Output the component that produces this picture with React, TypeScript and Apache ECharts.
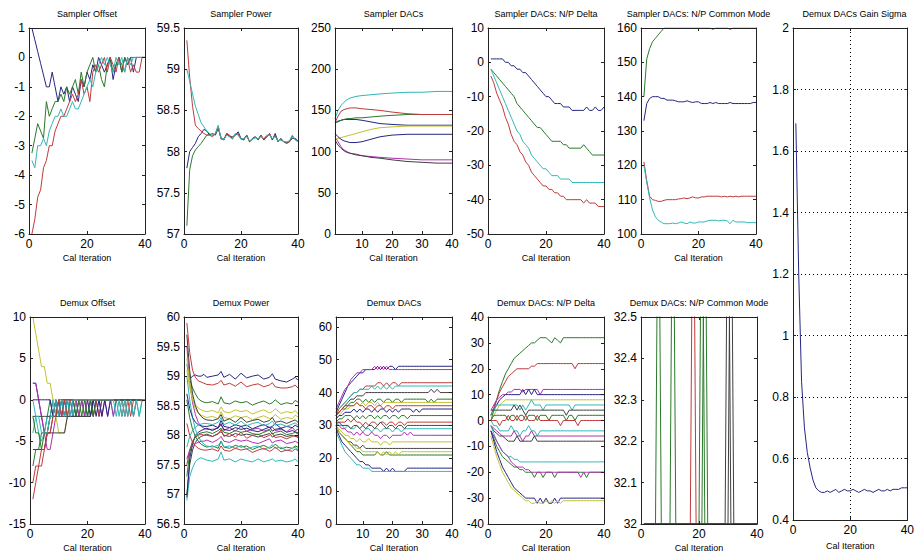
import { useEffect, useRef } from "react";
import * as echarts from "echarts";

// ---------- shared x data ----------
const ITER = [
  1, 2, 3, 4, 5, 6, 7, 8, 9, 10,
  11, 12, 13, 14, 15, 16, 17, 18, 19, 20,
  21, 22, 23, 24, 25, 26, 27, 28, 29, 30,
  31, 32, 33, 34, 35, 36, 37, 38, 39, 40,
];
const X_TICKS_STD = [0, 20, 40];
const X_TICKS_DAC = [10, 20, 30, 40];
const Y_TICKS_DEMUX_DAC = [0, 10, 20, 30, 40, 50, 60];

// ---------- Sampler Offset ----------
const SO_NAVY = [
  1, 0.6, 0.2, -0.2, -0.6, -1, -1, -0.5, -1, -1.5,
  -1, -1.25, -1, -1.5, -1, -1.25, -1.5, -0.75, -1, -0.5,
  -0.75, -0.25, -0.5, 0, -0.25, -0.5, -0.25, 0, -0.75, -0.25,
  0, -0.5, 0, -0.25, 0, -0.5, 0, 0, 0, 0,
];
const SO_RED = [
  -6, -5.5, -4.75, -4.5, -3.75, -3.5, -3, -3, -2.5, -2.25,
  -2, -2, -1.75, -1.5, -1.25, -1.5, -1.25, -0.75, -1.25, -1,
  -1.5, -0.5, -0.25, -0.5, -0.25, 0, -0.5, 0, -0.25, -0.5,
  0, -0.25, -0.5, 0, -0.5, -0.25, -0.5, -0.5, 0, 0,
];
const SO_GREEN = [
  -3.25, -2.75, -2.25, -2.5, -2.75, -1.5, -2, -1.75, -1.5, -1.5,
  -1.25, -1.5, -1, -1.25, -1, -0.75, -1.25, -0.5, -1, -0.5,
  -0.25, 0, -0.5, -0.25, -0.75, -1, -0.25, 0, -0.5, -0.25,
  0, -0.5, 0, -0.25, 0, 0, 0, 0, 0, 0,
];
const SO_CYAN = [
  -3.5, -3.75, -3, -3, -2.75, -3, -2.5, -2.25, -2, -2,
  -1.75, -2, -2, -1.75, -1.5, -1.75, -1.75, -1.5, -1.25, -1,
  -0.75, -1, -0.5, -0.25, 0, -0.25, 0, -0.25, -0.5, 0,
  -0.25, 0, -0.5, 0, -0.25, 0, 0, 0, 0, 0,
];

// ---------- Sampler Power ----------
const SP_RED = [
  59.35, 58.9, 58.55, 58.32, 58.28, 58.25, 58.22, 58.2, 58.2, 58.18,
  58.22, 58.3, 58.15, 58.15, 58.22, 58.2, 58.16, 58.2, 58.22, 58.15,
  58.15, 58.2, 58.12, 58.15, 58.18, 58.15, 58.2, 58.15, 58.18, 58.22,
  58.15, 58.2, 58.12, 58.15, 58.12, 58.1, 58.12, 58.18, 58.15, 58.13,
];
const SP_CYAN = [
  59.0, 58.85, 58.7, 58.55, 58.45, 58.35, 58.3, 58.25, 58.22, 58.2,
  58.22, 58.32, 58.16, 58.15, 58.2, 58.18, 58.15, 58.22, 58.2, 58.15,
  58.16, 58.18, 58.13, 58.15, 58.17, 58.15, 58.18, 58.16, 58.2, 58.2,
  58.16, 58.18, 58.13, 58.14, 58.12, 58.12, 58.13, 58.2, 58.14, 58.12,
];
const SP_NAVY = [
  57.8, 58.0, 58.05, 58.1, 58.18, 58.22, 58.27, 58.25, 58.2, 58.22,
  58.2, 58.28, 58.17, 58.14, 58.22, 58.18, 58.18, 58.2, 58.24, 58.16,
  58.14, 58.2, 58.12, 58.16, 58.18, 58.14, 58.2, 58.14, 58.18, 58.22,
  58.14, 58.22, 58.12, 58.16, 58.12, 58.11, 58.12, 58.16, 58.16, 58.13,
];
const SP_GREEN = [
  57.1, 57.78, 57.95, 58.02, 58.06, 58.1, 58.15, 58.2, 58.21, 58.2,
  58.21, 58.3, 58.16, 58.15, 58.21, 58.19, 58.16, 58.21, 58.21, 58.15,
  58.15, 58.19, 58.12, 58.15, 58.17, 58.15, 58.19, 58.15, 58.18, 58.21,
  58.15, 58.2, 58.12, 58.15, 58.12, 58.1, 58.12, 58.19, 58.15, 58.13,
];

// ---------- Sampler DACs ----------
const SD_X = [1, 2, 3, 4, 5, 6, 8, 10, 13, 16, 20, 25, 30, 35, 40];
const SD_CYAN = [140, 150, 156, 160, 163, 165, 167, 168, 169, 170, 171, 172, 172, 173, 173];
const SD_RED = [135, 143, 149, 151, 152, 153, 153, 152, 151, 150, 148, 146, 145, 145, 145];
const SD_GREEN = [135, 136, 138, 139, 140, 140, 141, 141, 142, 143, 144, 145, 145, 145, 145];
const SD_NAVY1 = [135, 137, 138, 139, 139, 139, 139, 138, 136, 134, 133, 132, 132, 132, 132];
const SD_YELLOW = [115, 116, 117, 118, 119, 120, 122, 124, 127, 129, 130, 131, 131, 131, 131];
const SD_NAVY2 = [122, 118, 115, 113, 112, 111, 111, 112, 115, 118, 120, 121, 121, 121, 121];
const SD_MAGENTA = [118, 112, 106, 102, 100, 98, 97, 95, 94, 93, 92, 91, 90, 90, 90];
const SD_BLACK = [114, 108, 104, 101, 99, 98, 96, 95, 93, 92, 90, 88, 87, 86, 86];

// ---------- Sampler DACs: N/P Delta ----------
const ND_NAVY = [
  1, 1, 1, 1, 1, 0, 0, -1, -1, -2,
  -2, -3, -3, -4, -5, -6, -7, -8, -9, -10,
  -10, -11, -12, -12, -12, -13, -13, -13, -14, -14,
  -14, -14, -14, -13, -14, -14, -13, -14, -14, -13,
];
const ND_GREEN = [
  -2, -3, -4, -5, -6, -7, -8, -9, -10, -12,
  -13, -14, -15, -16, -17, -18, -19, -19, -20, -21,
  -22, -23, -23, -23, -23, -24, -24, -25, -25, -25,
  -25, -25, -24, -25, -26, -27, -27, -27, -27, -27,
];
const ND_CYAN = [
  -2, -4, -6, -8, -10, -12, -14, -16, -18, -20,
  -21, -23, -24, -25, -27, -28, -29, -30, -31, -31,
  -32, -33, -33, -33, -34, -34, -34, -34, -35, -35,
  -35, -35, -35, -35, -35, -35, -35, -35, -35, -35,
];
const ND_RED = [
  -4, -6, -9, -11, -13, -16, -18, -21, -23, -24,
  -26, -27, -29, -30, -32, -33, -34, -35, -36, -36,
  -37, -37, -38, -38, -39, -39, -40, -40, -40, -40,
  -40, -40, -41, -40, -41, -41, -41, -42, -42, -42,
];

// ---------- Sampler DACs: N/P Common Mode ----------
const CM_GREEN = [
  140, 151, 154, 156, 157, 158, 159, 160, 160, 160,
  160, 160, 160, 160, 160, 160, 160, 160, 160, 160,
  160, 160, 160, 160, 159.6, 160, 160, 160, 160, 160,
  159.6, 160, 160, 160, 160, 160, 160, 160, 160, 160,
];
const CM_NAVY = [
  133, 138, 139.5, 140, 140, 140, 139.5, 139.5, 139, 139,
  139, 138.8, 138.5, 138.5, 138.5, 138.8, 138.5, 138.3, 138.5, 138.5,
  138, 138, 138, 138.3, 138, 138.3, 138, 138, 138, 138,
  138.3, 138, 138, 138, 138, 138, 138, 138, 138.3, 138.3,
];
const CM_RED = [
  121, 115.5, 111, 110, 109.8, 109.5, 109.5, 109.8, 110, 110,
  110, 110, 110.2, 110.3, 110.5, 110.3, 110.5, 110.8, 110.5, 110.5,
  110.8, 110.8, 111, 111, 111, 111, 111, 110.8, 111, 110.8,
  111, 110.8, 111, 110.8, 111, 111, 111, 111, 111, 111,
];
const CM_CYAN = [
  120, 115, 110.5, 107, 105, 104, 103.5, 103, 103, 103,
  103.2, 103, 103.2, 103.5, 103.2, 103, 103.5, 103.2, 103.2, 103.5,
  103.5, 103.5, 103.8, 104, 104, 104, 103.8, 104, 104, 103.8,
  103, 104, 103.5, 103.5, 103.5, 103.5, 103.3, 103.3, 103.3, 103.3,
];

// ---------- Demux DACs Gain Sigma ----------
const GAIN_SIGMA = [
  1.69, 1.2, 0.85, 0.7, 0.62, 0.57, 0.53, 0.505, 0.495, 0.49,
  0.49, 0.495, 0.49, 0.495, 0.5, 0.49, 0.495, 0.5, 0.495, 0.495,
  0.5, 0.495, 0.49, 0.495, 0.5, 0.495, 0.495, 0.49, 0.495, 0.5,
  0.495, 0.495, 0.5, 0.495, 0.5, 0.5, 0.5, 0.505, 0.505, 0.505,
];

// ---------- Demux Offset ----------
const DO_NAVY = [
  2, 2, 0, -2, -4, -4, -2, 0, -2, 0,
  -2, 0, -2, 0, -2, 0, 0, 0, 0, -2,
  0, -2, 0, -2, 0, 0, 0, 0, 0, 0,
  0, 0, 0, 0, 0, 0, 0, 0, 0, 0,
];
const DO_GREEN = [
  -8, -6, -6, -4, -4, -2, 0, -2, 0, -2,
  0, -2, 0, 0, 0, 0, -2, 0, -2, 0,
  0, 0, 0, 0, 0, 0, 0, 0, 0, 0,
  0, 0, 0, 0, 0, 0, 0, 0, 0, 0,
];
const DO_RED = [
  -12, -10, -8, -8, -6, -4, -4, -2, 0, -2,
  0, 0, 0, 0, 0, 0, 0, 0, 0, 0,
  0, -2, 0, -2, 0, 0, 0, 0, 0, 0,
  0, 0, -2, 0, -2, 0, 0, 0, 0, 0,
];
const DO_CYAN = [
  -4, -2, -4, -5, -4, -2, -2, 0, -2, 0,
  -2, 0, -2, 0, -2, 0, 0, 0, 0, 0,
  0, 0, 0, 0, 0, 0, 0, 0, -2, 0,
  -2, 0, -2, 0, 0, -2, 0, -2, 0, 0,
];
const DO_MAGENTA = [
  2, 2, 0, -2, -4, -6, -6, -4, -2, 0,
  -2, 0, 0, 0, 0, 0, -2, 0, -2, 0,
  0, 0, 0, 0, -2, 0, -2, 0, -2, 0,
  0, 0, 0, 0, 0, 0, 0, 0, 0, 0,
];
const DO_YELLOW = [
  10, 8, 6, 4, 4, 2, 2, 0, -2, -4,
  -4, -4, -2, 0, 0, 0, 0, 0, 0, 0,
  0, 0, 0, 0, 0, 0, 0, 0, 0, 0,
  0, 0, 0, 0, 0, 0, 0, 0, 0, 0,
];
const DO_BLACK = [
  -6, -6, -6, -6, -6, -4, -4, -4, -4, -4,
  -4, -4, -2, -2, -2, -2, -2, -2, -2, -2,
  -2, 0, 0, 0, 0, 0, 0, 0, 0, 0,
  0, 0, 0, 0, 0, 0, 0, 0, 0, 0,
];
const DO_NAVY2 = [
  0, 0, 0, 0, 0, 0, 0, -2, 0, -2,
  0, -2, 0, -2, 0, -2, 0, 0, 0, 0,
  -2, 0, -2, 0, -2, 0, -2, 0, 0, 0,
  0, 0, 0, 0, 0, 0, 0, 0, 0, 0,
];
const DO_GREEN2 = [
  -2, -4, -4, -6, -4, -4, -2, -2, -2, 0,
  0, 0, 0, 0, 0, -2, 0, -2, 0, -2,
  0, -2, 0, 0, 0, 0, 0, 0, 0, 0,
  0, 0, 0, 0, 0, 0, 0, 0, 0, 0,
];
const DO_RED2 = [
  -10, -8, -8, -6, -6, -4, -4, -2, -2, 0,
  -2, 0, -2, 0, 0, 0, 0, 0, 0, 0,
  0, 0, 0, 0, 0, 0, 0, 0, 0, 0,
  0, -2, 0, -2, 0, -2, 0, 0, 0, 0,
];
const DO_CYAN2 = [
  0, -2, -2, -4, -4, -4, -2, -2, 0, -2,
  0, -2, 0, -2, 0, 0, 0, 0, 0, 0,
  0, 0, 0, 0, 0, 0, 0, 0, 0, -2,
  0, -2, 0, -2, 0, -2, 0, -2, 0, 0,
];
const DO_BLACK2 = [
  -2, -2, -2, -2, -2, -2, -2, -2, -2, -2,
  -2, -2, -2, -2, -2, -2, -2, -2, -2, -2,
  -2, 0, 0, 0, 0, 0, 0, 0, 0, 0,
  0, 0, 0, 0, 0, 0, 0, 0, 0, 0,
];

// ---------- Demux Power ----------
const DP_X = [1, 2, 3, 4, 5, 6, 7, 8, 10, 12, 13, 14, 16, 18, 20, 22, 24, 26, 28, 30, 31, 32, 34, 36, 38, 39, 40];
const DP_1 = [58.9, 58.95, 59.0, 59.02, 59.0, 59.0, 59.03, 58.98, 59.0, 59.02, 59.08, 58.98, 59.03, 58.95, 59.05, 58.97, 59.0, 59.02, 58.95, 58.98, 59.04, 58.95, 58.92, 58.9, 58.95, 58.98, 58.93];
const DP_2 = [59.2, 58.95, 58.8, 58.7, 58.62, 58.58, 58.56, 58.55, 58.57, 58.53, 58.65, 58.55, 58.53, 58.58, 58.55, 58.57, 58.51, 58.55, 58.58, 58.53, 58.55, 58.6, 58.52, 58.55, 58.53, 58.59, 58.56];
const DP_3 = [59.9, 59.4, 59.1, 58.98, 58.92, 58.9, 58.88, 58.86, 58.85, 58.88, 58.93, 58.85, 58.88, 58.83, 58.9, 58.82, 58.85, 58.87, 58.82, 58.85, 58.89, 58.82, 58.8, 58.8, 58.82, 58.85, 58.8];
const DP_4 = [56.9, 57.3, 57.45, 57.55, 57.6, 57.62, 57.6, 57.58, 57.56, 57.6, 57.72, 57.58, 57.6, 57.55, 57.6, 57.57, 57.55, 57.6, 57.55, 57.58, 57.6, 57.56, 57.58, 57.55, 57.57, 57.6, 57.55];
const DP_5 = [59.5, 58.9, 58.55, 58.35, 58.22, 58.15, 58.12, 58.1, 58.1, 58.12, 58.2, 58.08, 58.13, 58.07, 58.15, 58.07, 58.1, 58.12, 58.07, 58.1, 58.14, 58.08, 58.1, 58.06, 58.13, 58.08, 58.1];
const DP_6 = [59.3, 58.9, 58.6, 58.45, 58.38, 58.34, 58.32, 58.3, 58.32, 58.28, 58.4, 58.3, 58.28, 58.33, 58.3, 58.32, 58.26, 58.3, 58.33, 58.28, 58.3, 58.35, 58.27, 58.3, 58.28, 58.34, 58.31];
const DP_7 = [57.0, 57.5, 57.75, 57.88, 57.95, 57.98, 58.0, 58.02, 57.98, 58.03, 58.06, 58.0, 57.98, 58.03, 58.0, 58.02, 58.0, 57.97, 58.0, 58.03, 57.97, 58.0, 58.02, 57.98, 58.0, 57.98, 57.97];
const DP_8 = [56.95, 57.6, 57.85, 58.0, 58.05, 58.08, 58.1, 58.12, 58.08, 58.13, 58.18, 58.1, 58.08, 58.13, 58.1, 58.12, 58.08, 58.06, 58.1, 58.14, 58.07, 58.1, 58.12, 58.05, 58.08, 58.06, 58.04];
const DP_9 = [58.6, 58.3, 58.1, 57.98, 57.9, 57.85, 57.82, 57.8, 57.82, 57.78, 57.9, 57.8, 57.78, 57.83, 57.8, 57.82, 57.76, 57.8, 57.83, 57.78, 57.8, 57.85, 57.77, 57.8, 57.78, 57.82, 57.8];
const DP_10 = [57.5, 57.75, 57.9, 57.97, 58.0, 58.02, 58.0, 58.0, 57.98, 58.02, 58.1, 57.98, 58.03, 57.97, 58.05, 57.95, 58.0, 58.02, 57.96, 58.0, 58.04, 57.96, 57.98, 57.94, 57.98, 58.0, 57.96];
const DP_11 = [59.0, 58.6, 58.3, 58.1, 57.98, 57.9, 57.85, 57.82, 57.8, 57.83, 57.9, 57.8, 57.82, 57.78, 57.83, 57.77, 57.8, 57.82, 57.76, 57.8, 57.84, 57.78, 57.8, 57.74, 57.78, 57.8, 57.76];
const DP_12 = [57.6, 57.75, 57.82, 57.86, 57.88, 57.9, 57.9, 57.92, 57.88, 57.93, 57.98, 57.9, 57.88, 57.93, 57.9, 57.92, 57.88, 57.86, 57.9, 57.94, 57.87, 57.9, 57.92, 57.86, 57.88, 57.9, 57.87];
const DP_13 = [59.1, 58.8, 58.62, 58.52, 58.46, 58.43, 58.41, 58.4, 58.42, 58.38, 58.48, 58.4, 58.38, 58.43, 58.4, 58.42, 58.36, 58.4, 58.43, 58.38, 58.4, 58.45, 58.37, 58.4, 58.38, 58.42, 58.36];
const DP_14 = [59.7, 59.1, 58.7, 58.5, 58.38, 58.32, 58.28, 58.26, 58.25, 58.28, 58.35, 58.24, 58.28, 58.22, 58.3, 58.22, 58.25, 58.27, 58.22, 58.25, 58.3, 58.22, 58.24, 58.2, 58.24, 58.26, 58.22];
const DP_15 = [58.7, 58.45, 58.3, 58.22, 58.18, 58.16, 58.15, 58.15, 58.17, 58.13, 58.25, 58.15, 58.13, 58.18, 58.15, 58.17, 58.11, 58.15, 58.18, 58.13, 58.15, 58.2, 58.12, 58.15, 58.13, 58.17, 58.14];
const DP_16 = [57.3, 57.7, 57.88, 57.97, 58.02, 58.04, 58.05, 58.06, 58.03, 58.08, 58.12, 58.05, 58.03, 58.08, 58.05, 58.07, 58.03, 58.01, 58.05, 58.09, 58.02, 58.05, 58.07, 58.01, 58.03, 58.05, 58.02];
const DP_17 = [58.2, 58.0, 57.88, 57.82, 57.78, 57.76, 57.75, 57.75, 57.77, 57.73, 57.82, 57.75, 57.73, 57.78, 57.75, 57.77, 57.71, 57.75, 57.78, 57.73, 57.75, 57.8, 57.72, 57.75, 57.73, 57.77, 57.74];
const DP_18 = [57.8, 57.98, 58.08, 58.14, 58.17, 58.19, 58.2, 58.2, 58.18, 58.22, 58.3, 58.18, 58.22, 58.17, 58.24, 58.16, 58.2, 58.22, 58.16, 58.2, 58.24, 58.17, 58.19, 58.15, 58.19, 58.21, 58.17];

// ---------- Demux DACs ----------
const DD_1 = [34, 36, 38, 40, 42, 43, 44, 45, 46, 46, 47, 47, 47, 47, 48, 47, 48, 47, 48, 48, 47, 48, 48, 48, 48, 48, 48, 48, 48, 48, 48, 48, 48, 48, 48, 48, 48, 48, 48, 48];
const DD_2 = [35, 37, 39, 41, 42, 44, 45, 46, 46, 47, 47, 47, 47, 48, 47, 48, 47, 48, 47, 47, 47, 47, 47, 47, 47, 47, 47, 47, 47, 47, 47, 47, 47, 47, 47, 47, 47, 47, 47, 47];
const DD_3 = [33, 35, 36, 37, 38, 39, 40, 40, 41, 41, 42, 42, 42, 42, 43, 43, 42, 43, 42, 43, 43, 42, 43, 43, 43, 43, 43, 43, 43, 43, 43, 43, 43, 43, 43, 43, 43, 43, 43, 43];
const DD_4 = [34, 35, 36, 37, 38, 39, 40, 40, 41, 41, 41, 41, 42, 41, 42, 41, 42, 41, 42, 41, 42, 42, 42, 42, 42, 42, 42, 42, 42, 42, 42, 42, 42, 42, 42, 42, 42, 42, 42, 42];
const DD_5 = [33, 34, 35, 36, 37, 38, 38, 39, 39, 39, 40, 40, 40, 40, 40, 40, 40, 40, 40, 40, 40, 40, 40, 40, 40, 40, 40, 40, 40, 40, 40, 40, 41, 40, 41, 40, 40, 40, 40, 40];
const DD_6 = [33, 34, 35, 36, 36, 37, 37, 38, 38, 37, 38, 37, 38, 37, 38, 38, 37, 38, 38, 37, 38, 38, 37, 38, 38, 38, 38, 38, 38, 38, 38, 37, 38, 37, 38, 38, 38, 38, 38, 38];
const DD_7 = [32, 33, 34, 35, 35, 36, 36, 37, 36, 37, 36, 37, 37, 36, 37, 36, 37, 37, 37, 37, 37, 37, 37, 37, 37, 37, 37, 37, 37, 37, 37, 37, 37, 37, 37, 37, 37, 37, 37, 37];
const DD_8 = [32, 33, 33, 34, 34, 34, 35, 34, 35, 34, 35, 35, 34, 35, 34, 35, 35, 34, 35, 34, 35, 34, 35, 35, 35, 35, 34, 35, 34, 35, 35, 35, 35, 35, 35, 35, 35, 35, 35, 35];
const DD_9 = [31, 32, 32, 33, 33, 33, 32, 33, 32, 33, 32, 33, 33, 32, 33, 32, 33, 33, 32, 33, 33, 32, 33, 33, 32, 33, 33, 33, 33, 33, 33, 33, 33, 33, 33, 33, 33, 33, 33, 33];
const DD_10 = [30, 31, 31, 31, 32, 31, 32, 31, 31, 30, 31, 30, 31, 31, 30, 31, 31, 30, 31, 31, 30, 31, 31, 30, 31, 31, 31, 31, 31, 31, 31, 31, 31, 31, 31, 31, 31, 31, 31, 31];
const DD_11 = [31, 30, 30, 29, 30, 29, 29, 30, 29, 28, 29, 29, 28, 29, 29, 28, 29, 29, 29, 28, 29, 29, 28, 29, 29, 29, 29, 29, 29, 29, 29, 29, 29, 29, 29, 29, 29, 29, 29, 29];
const DD_12 = [30, 30, 29, 29, 28, 28, 27, 28, 27, 28, 27, 27, 28, 27, 27, 26, 27, 27, 26, 27, 27, 27, 27, 28, 27, 28, 27, 27, 27, 27, 27, 27, 27, 27, 27, 27, 27, 27, 27, 27];
const DD_13 = [30, 29, 28, 27, 27, 26, 26, 25, 26, 25, 25, 26, 25, 25, 25, 24, 25, 25, 24, 25, 25, 25, 25, 25, 25, 25, 25, 25, 25, 25, 25, 25, 25, 25, 25, 25, 25, 25, 25, 25];
const DD_14 = [30, 28, 27, 26, 25, 25, 24, 24, 23, 24, 23, 23, 23, 23, 23, 23, 23, 23, 23, 23, 23, 23, 23, 23, 23, 23, 23, 23, 23, 23, 23, 23, 23, 23, 23, 23, 23, 23, 23, 23];
const DD_15 = [29, 28, 27, 26, 25, 24, 23, 22, 22, 21, 21, 21, 21, 21, 22, 21, 21, 22, 21, 21, 21, 21, 21, 21, 21, 21, 21, 21, 21, 21, 21, 21, 21, 21, 21, 21, 21, 21, 21, 21];
const DD_16 = [30, 28, 27, 26, 25, 24, 24, 23, 23, 22, 22, 22, 22, 22, 22, 21, 22, 21, 22, 21, 22, 21, 22, 22, 22, 22, 22, 22, 22, 22, 22, 22, 22, 22, 22, 22, 22, 22, 22, 22];
const DD_17 = [29, 27, 25, 24, 23, 22, 21, 20, 19, 19, 18, 18, 17, 17, 17, 17, 16, 17, 16, 17, 16, 16, 16, 16, 17, 17, 17, 17, 17, 17, 17, 17, 17, 17, 17, 17, 17, 17, 17, 17];
const DD_18 = [28, 26, 24, 22, 21, 20, 19, 18, 18, 17, 17, 17, 16, 16, 16, 16, 16, 16, 16, 16, 16, 16, 16, 16, 16, 16, 16, 16, 16, 16, 16, 16, 16, 16, 16, 16, 16, 16, 16, 16];
const DD_19 = [33, 34, 35, 35, 36, 36, 36, 37, 36, 36, 35, 36, 36, 35, 36, 36, 35, 36, 36, 35, 36, 36, 36, 36, 36, 36, 36, 36, 36, 36, 36, 36, 36, 36, 36, 36, 36, 36, 36, 36];
const DD_20 = [31, 31, 30, 30, 30, 29, 30, 30, 29, 30, 29, 30, 30, 29, 30, 31, 30, 29, 30, 30, 29, 30, 30, 29, 30, 30, 30, 30, 30, 30, 30, 30, 30, 30, 30, 30, 30, 30, 30, 30];

// ---------- Demux DACs: N/P Delta ----------
const DN_1 = [0, 4, 8, 12, 15, 18, 20, 22, 24, 25, 26, 27, 28, 29, 30, 30, 31, 32, 32, 32, 31, 30, 32, 31, 30, 32, 32, 32, 32, 32, 32, 32, 32, 32, 32, 32, 32, 32, 32, 32];
const DN_2 = [2, 5, 8, 11, 13, 15, 17, 18, 19, 20, 20, 20, 20, 20, 21, 21, 22, 22, 22, 22, 22, 22, 22, 22, 22, 22, 22, 22, 22, 20, 22, 22, 22, 22, 22, 22, 22, 22, 22, 22];
const DN_3 = [4, 6, 8, 9, 10, 10, 11, 11, 12, 12, 12, 11, 12, 12, 12, 12, 12, 10, 12, 12, 12, 12, 12, 12, 12, 12, 12, 12, 12, 12, 12, 12, 12, 12, 12, 12, 12, 12, 12, 12];
const DN_4 = [2, 4, 6, 8, 9, 10, 10, 10, 10, 10, 10, 12, 10, 12, 10, 12, 10, 10, 10, 10, 10, 10, 10, 10, 10, 10, 10, 10, 10, 10, 10, 10, 10, 10, 10, 10, 10, 10, 10, 10];
const DN_5 = [0, 2, 4, 6, 7, 8, 8, 8, 8, 8, 8, 8, 8, 8, 8, 8, 8, 8, 8, 8, 8, 8, 8, 8, 8, 8, 8, 8, 8, 8, 8, 8, 8, 8, 8, 8, 8, 8, 8, 8];
const DN_6 = [2, 4, 6, 6, 6, 6, 6, 6, 6, 6, 4, 6, 4, 6, 8, 6, 6, 6, 4, 6, 6, 6, 6, 6, 6, 6, 6, 6, 4, 6, 6, 6, 6, 6, 6, 6, 6, 6, 6, 6];
const DN_7 = [4, 4, 4, 4, 4, 4, 4, 4, 6, 4, 6, 4, 2, 4, 4, 4, 4, 4, 4, 4, 4, 4, 4, 4, 4, 4, 2, 4, 4, 4, 4, 4, 4, 4, 4, 4, 4, 4, 4, 4];
const DN_8 = [0, 2, 2, 2, 2, 2, 0, 2, 2, 0, 2, 2, 0, 2, 2, 2, 0, 2, 2, 2, 0, 2, 2, 2, 2, 2, 0, 2, 2, 0, 2, 2, 2, 2, 2, 2, 2, 2, 2, 2];
const DN_9 = [0, 0, 0, -2, 0, 0, 2, 0, 0, 2, 0, 0, 2, 0, 0, 0, 2, 0, 0, 0, 0, 0, 0, 0, -2, 0, 0, 0, 0, 0, -2, 0, 0, 0, 0, 0, 0, 0, 0, 0];
const DN_10 = [0, -2, -2, -4, -4, -4, -4, -2, -4, -4, -6, -4, -4, -2, -4, -4, -6, -4, -4, -4, -4, -4, -4, -4, -4, -4, -4, -4, -4, -4, -4, -4, -4, -4, -4, -4, -4, -4, -4, -4];
const DN_11 = [-2, -3, -4, -5, -6, -6, -6, -6, -4, -6, -6, -8, -6, -6, -4, -6, -6, -6, -6, -6, -6, -6, -6, -6, -6, -6, -6, -6, -6, -6, -6, -6, -6, -6, -6, -6, -6, -6, -6, -6];
const DN_12 = [-2, -4, -5, -6, -6, -7, -8, -8, -8, -6, -8, -8, -8, -8, -8, -6, -8, -8, -8, -8, -8, -8, -8, -8, -8, -8, -8, -8, -8, -8, -8, -8, -8, -8, -8, -8, -8, -8, -8, -8];
const DN_13 = [-2, -5, -8, -10, -12, -13, -14, -14, -15, -15, -16, -16, -16, -16, -16, -16, -16, -16, -16, -16, -16, -16, -16, -16, -16, -16, -16, -16, -16, -16, -16, -16, -16, -16, -16, -16, -16, -16, -16, -16];
const DN_14 = [-4, -7, -10, -12, -14, -15, -16, -17, -18, -18, -19, -19, -20, -20, -20, -22, -20, -20, -22, -20, -20, -20, -22, -20, -20, -20, -20, -20, -20, -20, -20, -20, -20, -22, -20, -20, -20, -20, -20, -20];
const DN_15 = [-4, -6, -8, -10, -12, -13, -14, -16, -17, -18, -18, -18, -19, -19, -20, -20, -20, -20, -20, -20, -20, -20, -20, -20, -20, -20, -20, -20, -20, -20, -20, -22, -20, -20, -20, -20, -20, -20, -20, -20];
const DN_16 = [-4, -8, -12, -15, -18, -20, -22, -24, -26, -27, -28, -29, -30, -30, -30, -30, -32, -30, -32, -30, -32, -32, -30, -32, -30, -30, -30, -30, -30, -30, -30, -30, -30, -30, -30, -30, -30, -30, -30, -30];
const DN_17 = [-6, -10, -14, -17, -20, -22, -24, -26, -27, -28, -29, -30, -31, -31, -32, -32, -31, -32, -32, -31, -32, -31, -32, -31, -32, -31, -31, -31, -31, -31, -31, -31, -31, -31, -31, -31, -31, -31, -31, -31];

// ---------- Demux DACs: N/P Common Mode ----------
const DC_G1_X = [1, 5, 6, 7, 40];
const DC_G1_Y = [32, 32, 33, 32, 32];
const DC_G2_X = [1, 10, 11, 12, 40];
const DC_G2_Y = [32, 32, 33, 32, 32];
const DC_R1_X = [1, 17, 18, 19, 40];
const DC_R1_Y = [32, 32, 33, 32, 32];
const DC_G3_X = [1, 20, 21, 22, 40];
const DC_G3_Y = [32, 32, 33, 32, 32];
const DC_G4_X = [1, 21, 22, 23, 40];
const DC_G4_Y = [32, 32, 33, 32, 32];
const DC_K1_X = [1, 29, 30, 31, 40];
const DC_K1_Y = [32, 32, 33, 32, 32];
const DC_K2_X = [1, 30, 31, 32, 40];
const DC_K2_Y = [32, 32, 33, 32, 32];

// ---------- styles ----------
const COL: Record<string, string> = {
  b: "#262684",
  g: "#2a7a2a",
  r: "#c03a3a",
  c: "#2fb8b8",
  m: "#b02fb0",
  y: "#c2c230",
  k: "#404040",
};
const FONT = '"Liberation Sans", Arial, Helvetica, sans-serif';
const AXIS_COLOR = "#222";

type Line = { c: string; y: number[]; x?: number[] };
type Panel = {
  title: string;
  box: [number, number, number, number];
  x: [number, number];
  xInterval?: number;
  xCustom?: number[];
  y: [number, number];
  yInterval?: number;
  yCustom?: number[];
  grid?: boolean;
  lines: Line[];
};

const TOP = 28;
const TOP_H = 206;
const BOT = 317;
const BOT_H = 207;

const PANELS: Panel[] = [
  {
    title: "Sampler Offset",
    box: [29, TOP, 116, TOP_H],
    x: [0, 40], xCustom: X_TICKS_STD,
    y: [-6, 1], yInterval: 1,
    lines: [
      { c: "b", y: SO_NAVY }, { c: "g", y: SO_GREEN }, { c: "r", y: SO_RED }, { c: "c", y: SO_CYAN },
    ],
  },
  {
    title: "Sampler Power",
    box: [184, TOP, 114, TOP_H],
    x: [0, 40], xCustom: X_TICKS_STD,
    y: [57, 59.5], yInterval: 0.5,
    lines: [
      { c: "b", y: SP_NAVY }, { c: "g", y: SP_GREEN }, { c: "r", y: SP_RED }, { c: "c", y: SP_CYAN },
    ],
  },
  {
    title: "Sampler DACs",
    box: [335, TOP, 117, TOP_H],
    x: [1, 40], xCustom: X_TICKS_DAC,
    y: [0, 250], yInterval: 50,
    lines: [
      { c: "b", x: SD_X, y: SD_NAVY1 }, { c: "g", x: SD_X, y: SD_GREEN }, { c: "r", x: SD_X, y: SD_RED },
      { c: "c", x: SD_X, y: SD_CYAN }, { c: "m", x: SD_X, y: SD_MAGENTA }, { c: "y", x: SD_X, y: SD_YELLOW },
      { c: "k", x: SD_X, y: SD_BLACK }, { c: "b", x: SD_X, y: SD_NAVY2 },
    ],
  },
  {
    title: "Sampler DACs: N/P Delta",
    box: [488, TOP, 116, TOP_H],
    x: [0, 40], xCustom: X_TICKS_STD,
    y: [-50, 10], yInterval: 10,
    lines: [
      { c: "b", y: ND_NAVY }, { c: "g", y: ND_GREEN }, { c: "r", y: ND_RED }, { c: "c", y: ND_CYAN },
    ],
  },
  {
    title: "Sampler DACs: N/P Common Mode",
    box: [641, TOP, 115, TOP_H],
    x: [0, 40], xCustom: X_TICKS_STD,
    y: [100, 160], yInterval: 10,
    lines: [
      { c: "b", y: CM_NAVY }, { c: "g", y: CM_GREEN }, { c: "r", y: CM_RED }, { c: "c", y: CM_CYAN },
    ],
  },
  {
    title: "Demux DACs Gain Sigma",
    box: [793, TOP, 123, 496],
    x: [0, 40], xInterval: 20,
    y: [0.4, 2], yInterval: 0.2,
    grid: true,
    lines: [{ c: "b", y: GAIN_SIGMA }],
  },
  {
    title: "Demux Offset",
    box: [30, BOT, 115, BOT_H],
    x: [0, 40], xCustom: X_TICKS_STD,
    y: [-15, 10], yInterval: 5,
    lines: [
      { c: "b", y: DO_NAVY }, { c: "g", y: DO_GREEN }, { c: "r", y: DO_RED }, { c: "c", y: DO_CYAN },
      { c: "m", y: DO_MAGENTA }, { c: "y", y: DO_YELLOW }, { c: "k", y: DO_BLACK }, { c: "k", y: DO_BLACK2 },
      { c: "b", y: DO_NAVY2 }, { c: "g", y: DO_GREEN2 }, { c: "r", y: DO_RED2 }, { c: "c", y: DO_CYAN2 },
    ],
  },
  {
    title: "Demux Power",
    box: [184, BOT, 114, BOT_H],
    x: [0, 40], xCustom: X_TICKS_STD,
    y: [56.5, 60], yInterval: 0.5,
    lines: [
      { c: "b", x: DP_X, y: DP_1 }, { c: "g", x: DP_X, y: DP_2 }, { c: "r", x: DP_X, y: DP_3 },
      { c: "c", x: DP_X, y: DP_4 }, { c: "m", x: DP_X, y: DP_5 }, { c: "y", x: DP_X, y: DP_6 },
      { c: "k", x: DP_X, y: DP_7 }, { c: "b", x: DP_X, y: DP_8 }, { c: "g", x: DP_X, y: DP_9 },
      { c: "r", x: DP_X, y: DP_10 }, { c: "c", x: DP_X, y: DP_11 }, { c: "m", x: DP_X, y: DP_12 },
      { c: "y", x: DP_X, y: DP_13 }, { c: "k", x: DP_X, y: DP_14 }, { c: "b", x: DP_X, y: DP_15 },
      { c: "g", x: DP_X, y: DP_16 }, { c: "r", x: DP_X, y: DP_17 }, { c: "c", x: DP_X, y: DP_18 },
    ],
  },
  {
    title: "Demux DACs",
    box: [336, BOT, 116, BOT_H],
    x: [1, 40], xCustom: X_TICKS_DAC,
    y: [0, 63], yCustom: Y_TICKS_DEMUX_DAC,
    lines: [
      { c: "b", y: DD_1 }, { c: "m", y: DD_2 }, { c: "r", y: DD_3 }, { c: "c", y: DD_4 },
      { c: "k", y: DD_5 }, { c: "g", y: DD_6 }, { c: "y", y: DD_7 }, { c: "b", y: DD_8 },
      { c: "g", y: DD_9 }, { c: "r", y: DD_10 }, { c: "c", y: DD_11 }, { c: "m", y: DD_12 },
      { c: "y", y: DD_13 }, { c: "k", y: DD_14 }, { c: "g", y: DD_15 }, { c: "y", y: DD_16 },
      { c: "b", y: DD_17 }, { c: "c", y: DD_18 }, { c: "r", y: DD_19 }, { c: "k", y: DD_20 },
    ],
  },
  {
    title: "Demux DACs: N/P Delta",
    box: [488, BOT, 116, BOT_H],
    x: [0, 40], xCustom: X_TICKS_STD,
    y: [-40, 40], yInterval: 10,
    lines: [
      { c: "g", y: DN_1 }, { c: "r", y: DN_2 }, { c: "m", y: DN_3 }, { c: "b", y: DN_4 },
      { c: "y", y: DN_5 }, { c: "c", y: DN_6 }, { c: "k", y: DN_7 }, { c: "g", y: DN_8 },
      { c: "r", y: DN_9 }, { c: "c", y: DN_10 }, { c: "m", y: DN_11 }, { c: "k", y: DN_12 },
      { c: "c", y: DN_13 }, { c: "g", y: DN_14 }, { c: "m", y: DN_15 }, { c: "b", y: DN_16 },
      { c: "y", y: DN_17 },
    ],
  },
  {
    title: "Demux DACs: N/P Common Mode",
    box: [641, BOT, 116, BOT_H],
    x: [0, 40], xCustom: X_TICKS_STD,
    y: [32, 32.5], yInterval: 0.1,
    lines: [
      { c: "g", x: DC_G1_X, y: DC_G1_Y }, { c: "g", x: DC_G2_X, y: DC_G2_Y }, { c: "r", x: DC_R1_X, y: DC_R1_Y },
      { c: "g", x: DC_G3_X, y: DC_G3_Y }, { c: "g", x: DC_G4_X, y: DC_G4_Y }, { c: "k", x: DC_K1_X, y: DC_K1_Y },
      { c: "k", x: DC_K2_X, y: DC_K2_Y },
    ],
  },
];

function buildOption() {
  const grid: any[] = [];
  const xAxis: any[] = [];
  const yAxis: any[] = [];
  const series: any[] = [];
  const title: any[] = [];

  const axisLine = { show: true, onZero: false, lineStyle: { color: AXIS_COLOR, width: 1 } };
  const tick = (custom?: number[]) => ({
    show: true, inside: true, length: 3, lineStyle: { color: AXIS_COLOR, width: 1 },
    ...(custom ? { customValues: custom } : {}),
  });
  const label = (show: boolean, custom?: number[]) => ({
    show, color: "#000", fontSize: 12, fontFamily: FONT, margin: 4,
    ...(custom ? { customValues: custom } : {}),
  });
  const split = (show: boolean) => ({
    show, lineStyle: { color: "#000", type: [1, 3], width: 1 },
  });

  PANELS.forEach((p, i) => {
    const [left, top, width, height] = p.box;
    grid.push({ left, top, width, height, show: false });
    title.push({
      text: p.title,
      left: left + width / 2,
      top: top - 19,
      textAlign: "center",
      padding: 0,
      textStyle: { fontSize: 9, fontWeight: "normal", color: "#000", fontFamily: FONT },
    });
    const xBase: any = {
      type: "value", gridIndex: i, min: p.x[0], max: p.x[1], z: 10,
      ...(p.xInterval ? { interval: p.xInterval } : {}),
    };
    const yBase: any = {
      type: "value", gridIndex: i, min: p.y[0], max: p.y[1], z: 10,
      ...(p.yInterval ? { interval: p.yInterval } : {}),
    };
    const xi = xAxis.length;
    xAxis.push({
      ...xBase, position: "bottom",
      name: "Cal Iteration", nameLocation: "middle", nameGap: 19,
      nameTextStyle: { fontSize: 9, color: "#000", fontFamily: FONT },
      axisLine, axisTick: tick(p.xCustom), axisLabel: label(true, p.xCustom),
      splitLine: split(!!p.grid),
    });
    xAxis.push({
      ...xBase, position: "top",
      axisLine, axisTick: tick(p.xCustom), axisLabel: label(false, p.xCustom),
      splitLine: split(false),
    });
    const yi = yAxis.length;
    yAxis.push({
      ...yBase, position: "left",
      axisLine, axisTick: tick(p.yCustom), axisLabel: label(true, p.yCustom),
      splitLine: split(!!p.grid),
    });
    yAxis.push({
      ...yBase, position: "right",
      axisLine, axisTick: tick(p.yCustom), axisLabel: label(false, p.yCustom),
      splitLine: split(false),
    });
    p.lines.forEach((l) => {
      const xs = l.x ?? ITER;
      series.push({
        type: "line",
        xAxisIndex: xi,
        yAxisIndex: yi,
        data: l.y.map((v, k) => [xs[k], v]),
        showSymbol: false,
        symbol: "none",
        clip: true,
        silent: true,
        z: 2,
        lineStyle: { color: COL[l.c], width: 1 },
        itemStyle: { color: COL[l.c] },
      });
    });
  });

  return {
    animation: false,
    backgroundColor: "#ffffff",
    title,
    grid,
    xAxis,
    yAxis,
    series,
  };
}

export default function App() {
  const ref = useRef<HTMLDivElement>(null);
  useEffect(() => {
    document.body.style.margin = "0";
    if (!ref.current) return;
    const chart = echarts.init(ref.current, undefined, { renderer: "svg" });
    chart.setOption(buildOption() as any);
    return () => chart.dispose();
  }, []);
  return (
    <div
      ref={ref}
      style={{ position: "fixed", left: 0, top: 0, width: 917, height: 555, background: "#fff" }}
    />
  );
}
